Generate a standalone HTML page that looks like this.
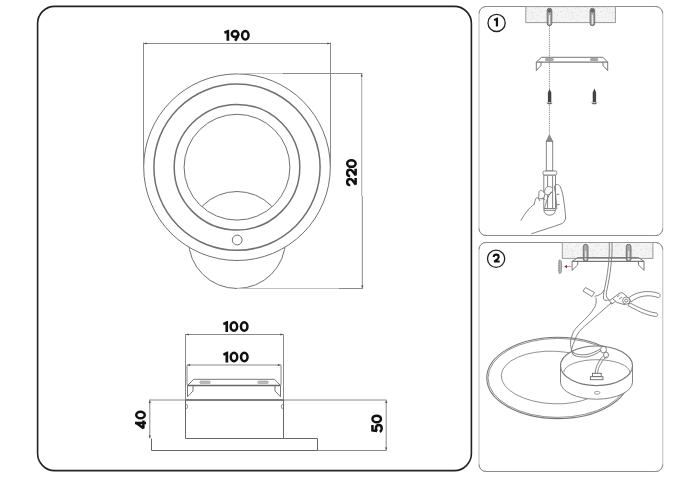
<!DOCTYPE html>
<html><head><meta charset="utf-8">
<style>
html,body{margin:0;padding:0;background:#fff;width:700px;height:478px;overflow:hidden}
svg{display:block}
text{font-family:"Liberation Sans",sans-serif;font-weight:bold;fill:#111}
</style></head><body>
<svg width="700" height="478" viewBox="0 0 700 478">
<defs>
  <clipPath id="outOuter"><path d="M0 0H700V478H0Z M143.7 167.2a93.3 93.3 0 1 0 186.6 0a93.3 93.3 0 1 0 -186.6 0Z" clip-rule="evenodd"/></clipPath>
  <clipPath id="inC4"><circle cx="237" cy="167.2" r="52.9"/></clipPath>
</defs>
<!-- left panel -->
<rect x="37.6" y="6.4" width="433.8" height="464.2" rx="17" ry="17" fill="none" stroke="#222" stroke-width="1.6"/>
<!-- right panels -->
<rect x="479" y="6.5" width="183.75" height="229.0" rx="7" fill="none" stroke="#bcbcbc" stroke-width="1"/>
<path d="M479 13.5 A7 7 0 0 1 486 6.5 H655.75 A7 7 0 0 1 662.75 13.5 M479 228.5 A7 7 0 0 0 486 235.5 H655.75 A7 7 0 0 0 662.75 228.5" fill="none" stroke="#8c8c8c" stroke-width="1"/>
<rect x="479" y="242.5" width="183.75" height="229.0" rx="7" fill="none" stroke="#bcbcbc" stroke-width="1"/>
<path d="M479 249.5 A7 7 0 0 1 486 242.5 H655.75 A7 7 0 0 1 662.75 249.5 M479 464.5 A7 7 0 0 0 486 471.5 H655.75 A7 7 0 0 0 662.75 464.5" fill="none" stroke="#8c8c8c" stroke-width="1"/>

<!-- front view -->
<g fill="none" stroke="#707070">
  <circle cx="237" cy="167.2" r="93.3" stroke-width="1"/>
  <circle cx="237" cy="167.2" r="83.1" stroke-width="1.5"/>
  <circle cx="237" cy="167.2" r="62.8" stroke-width="1.5"/>
  <circle cx="237" cy="167.2" r="52.9" stroke-width="1"/>
  <circle cx="237" cy="240" r="48.5" stroke-width="1" clip-path="url(#outOuter)"/>
  <circle cx="237" cy="240" r="48.5" stroke-width="1" clip-path="url(#inC4)"/>
  <circle cx="237.2" cy="240" r="4.9" stroke-width="1"/>
</g>
<g fill="none" stroke="#8a8a8a" stroke-width="1">
  <line x1="143.5" y1="43.5" x2="330.5" y2="43.5"/>
  <line x1="143.5" y1="42.5" x2="143.5" y2="167"/>
  <line x1="330.5" y1="42.5" x2="330.5" y2="167"/>
  <line x1="283" y1="73.5" x2="362.5" y2="73.5"/>
  <line x1="237" y1="73.5" x2="283" y2="73.5" stroke="#c4c4c4"/>
  <line x1="339" y1="288.5" x2="363" y2="288.5"/>
  <line x1="237" y1="288.5" x2="339" y2="288.5" stroke="#bdbdbd"/>
</g>
<line x1="361.7" y1="73.5" x2="361.7" y2="196" stroke="#a4a4a4" stroke-width="1"/><line x1="362.3" y1="196" x2="362.3" y2="288.5" stroke="#8a8a8a" stroke-width="1"/>
<g fill="#444">
  <path d="M144 43.5 L146.62 42.40 V44.60 Z"/>
  <path d="M330 43.5 L327.38 42.40 V44.60 Z"/>
  <path d="M361.7 74 L360.6 76.6 H362.8 Z"/>
  <path d="M362.3 288 L361.2 285.4 H363.4 Z"/>
</g>

<!-- side view -->
<g fill="none" stroke="#8a8a8a" stroke-width="1">
  <line x1="185.5" y1="334.5" x2="283.5" y2="334.5"/>
  <line x1="185.5" y1="334" x2="185.5" y2="400"/>
  <line x1="283.5" y1="334" x2="283.5" y2="400"/>
  <line x1="187" y1="365" x2="281" y2="365"/>
  <line x1="187" y1="365" x2="187" y2="385"/>
  <line x1="281" y1="365" x2="281" y2="385"/>
  <line x1="149" y1="400" x2="185.5" y2="400"/>
  <line x1="283.5" y1="400" x2="386.5" y2="400"/>
  <line x1="149.8" y1="400" x2="149.8" y2="438.5"/>
  <line x1="386.2" y1="400" x2="386.2" y2="450.5"/>
  <line x1="317.5" y1="450.5" x2="386.5" y2="450.5"/>
</g>
<g fill="#444">
  <path d="M186 334.5 L188.62 333.40 V335.60 Z"/>
  <path d="M283 334.5 L280.38 333.40 V335.60 Z"/>
  <path d="M187.5 365 L190.12 363.90 V366.10 Z"/>
  <path d="M280.5 365 L277.88 363.90 V366.10 Z"/>
  <path d="M149.8 400.5 L148.70 403.12 H150.90 Z"/>
  <path d="M149.8 438 L148.70 435.38 H150.90 Z"/>
  <path d="M386.2 400.5 L385.10 403.12 H387.30 Z"/>
  <path d="M386.2 450 L385.10 447.38 H387.30 Z"/>
</g>
<g fill="none" stroke="#666" stroke-width="1">
  <path d="M185.5 400 V438.5 H283.5 V400"/>
  <path d="M151.5 438.5 V450.5 H317.5 V438.5 H283.5"/>
  <!-- bracket -->
  <path d="M187.5 385.5 L193.7 379.3 H274.5 L280.5 385.5" stroke="#777"/>
  <path d="M187.5 385.5 V396.8 L193 391 V386" stroke="#777"/>
  <path d="M280.5 385.5 V396.8 L275 391 V386" stroke="#777"/>
  <path d="M186.3 404 C188 405 188 408 186.3 409" stroke="#888"/>
  <path d="M282.7 404 C281 405 281 408 282.7 409" stroke="#888"/>
</g>
<line x1="185.5" y1="400" x2="283.5" y2="400" stroke="#555" stroke-width="1.6"/>
<line x1="187.5" y1="385.5" x2="280.5" y2="385.5" stroke="#666" stroke-width="1.5"/>
<g fill="#bbb" stroke="#999" stroke-width="0.6">
  <rect x="199.8" y="381" width="10.5" height="2.6" rx="1.3"/>
  <rect x="257.8" y="381" width="10.5" height="2.6" rx="1.3"/>
</g>

<defs>
  <pattern id="speck" width="20" height="14" patternUnits="userSpaceOnUse">
    <rect width="20" height="14" fill="#f4f4f4"/>
    <g fill="#c4c4c4"><circle cx="4.8" cy="7.6" r="0.45"/><circle cx="7.4" cy="8.5" r="0.45"/><circle cx="12.5" cy="0.9" r="0.45"/><circle cx="0.3" cy="11.7" r="0.45"/><circle cx="5.2" cy="3.3" r="0.45"/><circle cx="19.9" cy="6.6" r="0.45"/><circle cx="16.7" cy="6.7" r="0.45"/><circle cx="12.8" cy="2.1" r="0.45"/><circle cx="12.7" cy="12.2" r="0.45"/><circle cx="10.5" cy="10.4" r="0.45"/><circle cx="15.2" cy="8.3" r="0.45"/><circle cx="6.0" cy="0.4" r="0.45"/><circle cx="14.4" cy="12.3" r="0.45"/><circle cx="7.9" cy="11.2" r="0.45"/><circle cx="8.9" cy="13.1" r="0.45"/><circle cx="17.6" cy="1.4" r="0.45"/><circle cx="2.7" cy="3.0" r="0.45"/><circle cx="12.5" cy="4.2" r="0.45"/><circle cx="10.1" cy="5.4" r="0.45"/><circle cx="11.7" cy="12.7" r="0.45"/><circle cx="17.1" cy="13.9" r="0.45"/><circle cx="18.1" cy="8.0" r="0.45"/><circle cx="1.8" cy="11.2" r="0.45"/><circle cx="8.2" cy="2.1" r="0.45"/><circle cx="5.9" cy="10.8" r="0.45"/><circle cx="14.4" cy="4.6" r="0.45"/></g>
  </pattern>
</defs>
<!-- ===== panel 1 ===== -->
<circle cx="496.6" cy="22.9" r="8.6" fill="none" stroke="#222" stroke-width="1.3"/>
<g transform="translate(493.8 17.6) scale(0.818)"><path d="M0 1.9 L4.0 0 H5.2 V11 H2.5 V3.4 L0.9 4.3 Z" fill="#111"/></g>
<rect x="525.8" y="6.6" width="89.6" height="16" fill="url(#speck)" stroke="#999" stroke-width="1"/>
<g stroke="#666" stroke-width="0.9">
  <rect x="547.2" y="8.3" width="4.6" height="17.4" rx="2.2" fill="#a8a8a8"/>
  <rect x="590.1" y="8.3" width="4.6" height="17.4" rx="2.2" fill="#a8a8a8"/>
</g>
<g fill="#e8e8e8"><rect x="548.9" y="15" width="1.2" height="9"/><rect x="591.8" y="15" width="1.2" height="9"/></g>
<g fill="#666"><rect x="547.7" y="9" width="3.6" height="3.5" rx="1.5"/><rect x="590.6" y="9" width="3.6" height="3.5" rx="1.5"/></g>
<line x1="549.4" y1="26" x2="549.4" y2="135" stroke="#666" stroke-width="0.8" stroke-dasharray="1.2 1"/>
<g fill="none" stroke="#777" stroke-width="1">
  <path d="M536.3 62.1 L541.5 57.3 H602.9 L607.7 62.1"/>
  <path d="M536.3 62.1 V70.6 L541 65.5 V62.1"/>
  <path d="M607.7 62.1 V70.6 L603 65.5 V62.1"/>
</g>
<line x1="536.3" y1="62.1" x2="607.7" y2="62.1" stroke="#777" stroke-width="1.4"/>
<g fill="#a8a8a8"><rect x="545" y="58.1" width="8.8" height="3" rx="1.5"/><rect x="589.9" y="58.1" width="8.4" height="3" rx="1.5"/></g>
<!-- screws -->
<g fill="#444">
  <path d="M547.9 102 V92.5 L549.6 89 L551.3 92.5 V102 Z"/>
  <path d="M592.7 102 V92.5 L594.4 88.5 L596.1 92.5 V102 Z"/>
  <path d="M546.3 102.5 H552.7 L551 104.2 H548 Z" fill="#666"/>
  <path d="M591.1 102.5 H597.5 L595.8 104.2 H592.8 Z" fill="#666"/>
</g>
<!-- screwdriver -->
<g fill="#fff" stroke="#777" stroke-width="0.9">
  <path d="M549.4 135 L546.2 141.3 H552.6 Z" fill="#8a8a8a" stroke="#888"/>
  <rect x="546.3" y="141.3" width="6.4" height="29.7"/>
  <path d="M543.8 175 V208.5 Q543.8 215.2 549.7 215.2 Q555.5 215.2 555.5 208.5 V175 Z"/>
  <line x1="547.6" y1="176" x2="547.6" y2="208.5"/>
  <line x1="552.6" y1="176" x2="552.6" y2="208.5"/>
  <line x1="544" y1="208.5" x2="555.3" y2="208.5"/>
  <line x1="544" y1="210.3" x2="555.3" y2="210.3"/>
  <rect x="543" y="171" width="13.8" height="4" rx="1.5"/>
</g>
<!-- hand -->
<g fill="#fff" stroke="#777" stroke-width="0.9" stroke-linejoin="round" stroke-linecap="round">
  <path d="M554.3 186.4 C556 195 556.5 203 556.8 209" fill="none"/>
  <path d="M534.1 204.4 L535.6 198.9 C536.1 197.8 537.6 197.4 538.6 198.2 L539.6 200.6" fill="none"/>
  <path d="M538.6 198.2 L539 191.8 C539.4 190.4 541.2 189.8 542.4 190.8 L545.2 193.8 L543.5 198.5 Z"/>
  <path d="M545 193.5 C543.8 190.5 545.5 187 548.5 186.6 C551.5 186.2 553.5 188.5 552.3 191.3 C551.2 193.8 548.5 195.3 546.3 194.8 Z"/>
  <path d="M550.9 192.2 C548.5 196 546 201 545.5 205.6 C545 207 544.5 208 544.3 208.5" fill="none"/>
  <path d="M555.1 185.1 C556.5 184 558.8 184 560.1 186.4 C562 190.5 563 195 563.5 198.9 C564.6 206 565.3 212 565.6 218" fill="none"/>
  <path d="M556.8 194.3 H558.9 M557 204.6 H559.3" fill="none"/>
  <path d="M542.5 198 L544.5 199.5" fill="none"/>
  <path d="M521.1 220.3 C525 213 529 208 534.1 204.4" fill="none"/>
  <path d="M565.6 218 C565.3 220.5 564 222.5 562.2 223.5 C553 227 541 230.5 531.6 233.7" fill="none"/>
</g>

<!-- ===== panel 2 ===== -->
<circle cx="496.1" cy="258.8" r="8.6" fill="none" stroke="#222" stroke-width="1.3"/>
<g transform="translate(492.6 253.6) scale(0.818)"><path d="M1.3 4.3 C1.3 2.3 2.7 1.25 4.4 1.25 C6.2 1.25 7.45 2.4 7.45 4.0 C7.45 5.2 6.8 6.0 5.8 6.9 L2.0 9.75 H8.6" fill="none" stroke="#111" stroke-width="2.5" stroke-linejoin="miter" stroke-miterlimit="3"/></g>
<rect x="562.3" y="242.5" width="90.6" height="15.9" fill="url(#speck)" stroke="#999" stroke-width="1"/>
<g stroke="#666" stroke-width="0.9">
  <rect x="583.3" y="244.3" width="4.7" height="17" rx="2.3" fill="#a8a8a8"/>
  <rect x="626.3" y="244.3" width="4.7" height="17" rx="2.3" fill="#a8a8a8"/>
</g>
<g fill="#e8e8e8"><rect x="585.05" y="251" width="1.2" height="9"/><rect x="628.05" y="251" width="1.2" height="9"/></g>
<g fill="none" stroke="#777" stroke-width="1">
  <path d="M572.1 261.4 L577.7 257.6 H638.5 L644 261.4"/>
  <path d="M572.1 261.4 V270.4 L577.7 264.9 V261.4"/>
  <path d="M644 261.4 V270.4 L638.5 264.9 V261.4"/>
</g>
<line x1="572.1" y1="261.4" x2="644" y2="261.4" stroke="#777" stroke-width="1.3"/>
<path d="M559.2 260 C560.8 260 561.4 261 561.4 262 V271.5 C561.4 272.6 560.8 273.4 559.2 273.4 C558.6 272 558.6 261.5 559.2 260 Z" fill="#bbb" stroke="#777" stroke-width="0.7"/><path d="M558.4 263 H559.6 M558.4 265.5 H559.6 M558.4 268 H559.6 M558.4 270.5 H559.6" stroke="#777" stroke-width="0.6"/>
<line x1="571.3" y1="266.6" x2="566" y2="266.6" stroke="#e77" stroke-width="0.9"/>
<path d="M564.2 266.6 L567 265 V268.2 Z" fill="#733"/>
<!-- cable -->
<g fill="none" stroke="#777" stroke-width="0.9">
  <path d="M609.2 242.5 C610 258 607.5 275 604.4 289.6 C603 293 599 296 594.5 296.3"/>
  <path d="M612 242.5 C612.5 258 610 276 607 289.6 C606 294 605.5 298 609.5 299.9"/>
  <path d="M604.4 289.6 C603.3 294 603.3 298 603.7 299.3 C604.5 300.5 607 300.5 609.5 300"/>
</g>
<g fill="#fff" stroke="#777" stroke-width="0.9">
  <path d="M583 291 L585.5 287.5 L594.5 292.5 L592 296.6 Z"/>
  <path d="M609.4 300.6 L615.8 296.2 L618 299.6 L611.8 304 Z"/>
</g>
<!-- pliers -->
<g fill="#fff" stroke="#777" stroke-width="0.9">
  <path d="M629 297.5 C636 292 648 289.5 659 293.5 C661 295 660 298 658 297.5 C648 294 638 296 631 302 Z"/>
  <path d="M630 303 C638 307 647 312 656.5 313 C658.5 314 657.5 317 655.5 316.5 C645 315 636 310 628 305.5 Z"/>
  <path d="M612.5 298.5 L619 293.5 L622 292.5 L627 296.5 L629.5 303 L624 304.5 L617 302.5 Z"/><path d="M617 297 L619.5 295 M619 299 L622 297" fill="none"/>
  <circle cx="626.2" cy="300.6" r="3.6"/>
  <circle cx="626.2" cy="300.6" r="1.5"/>
</g>
<!-- bowl / ring -->
<g fill="none" stroke="#777">
  <ellipse cx="557.8" cy="377.9" rx="71" ry="40.7" stroke-width="1.1"/>
  <ellipse cx="557.8" cy="377.9" rx="69.8" ry="39.5" stroke-width="0.8"/>
  <ellipse cx="554" cy="377.5" rx="52.8" ry="26.3" stroke-width="0.8" transform="rotate(2.4 554 377.5)"/>
</g>
<g stroke="#777" stroke-width="0.9">
  <path d="M560.5 365.8 V382 A36 17.2 0 0 0 632.5 382 V365.8 Z" fill="#fff"/>
  <ellipse cx="596.5" cy="365.8" rx="36" ry="19.8" fill="#fff" stroke-width="1.1"/>
  <path d="M563.8 372.4 A33 12.7 0 0 1 629.8 372.4" fill="none" stroke-width="0.8"/>
  <ellipse cx="597.2" cy="392.8" rx="2.8" ry="1.4" fill="none" stroke-width="0.7"/>
</g>
<!-- wires over -->
<g fill="none" stroke="#777" stroke-width="0.9">
  <path d="M596 297.7 C596.5 302 596 305 594.7 307.2 C591 314 585 319 581.8 322.2 C577 327 574 330 572.9 333.1 C570.5 339 570 344 570.9 346.7 C571.5 351 572 353.5 573.6 354.9 C577 357 582 357.2 587.2 356.9 C592 356 596 354 601 350.5"/>
  <path d="M611.7 302.5 L584.5 326.3 C579 331 576 336 575 339.9 C573.5 343 572.5 346 571.6 349.4 C572 352 573 354.5 575 356.2"/>
  <path d="M573 352 C576 355 582 355 587 354.5 C592 353.5 596 351.5 600 349"/>
  <path d="M595.1 373.3 C595.5 368 597 365 598.5 362.5 C600 359 602 357 604 355"/>
  <path d="M597.6 373.3 C598 368 599.5 366 601 363.5 C602.5 360.5 604.5 358.5 606.5 356.5"/>
  <ellipse cx="603.5" cy="349.6" rx="3" ry="3.3"/>
  <ellipse cx="606" cy="355" rx="2.5" ry="3"/>
</g>
<g fill="#fff" stroke="#666" stroke-width="0.9">
  <rect x="592.4" y="373.3" width="8.8" height="3.4"/>
  <rect x="590.4" y="376.7" width="12.5" height="3"/>
</g>
<!-- NUMS -->
<g transform="translate(224.00 29.70) scale(1.000)"><g transform="translate(0.00 0)"><path d="M0 1.9 L4.0 0 H5.2 V11 H2.5 V3.4 L0.9 4.3 Z" fill="#111"/></g><g transform="translate(6.50 0)"><ellipse cx="4.55" cy="4.3" rx="3.3" ry="3.05" fill="none" stroke="#111" stroke-width="2.5"/><path d="M7.85 4.3 C7.85 6.2 6.9 8.0 5.6 9.6 L4.6 11" fill="none" stroke="#111" stroke-width="2.5"/></g><g transform="translate(16.80 0)"><ellipse cx="4.5" cy="5.5" rx="3.25" ry="4.25" fill="none" stroke="#111" stroke-width="2.5"/></g></g>
<g transform="translate(222.90 321.00) scale(1.000)"><g transform="translate(0.00 0)"><path d="M0 1.9 L4.0 0 H5.2 V11 H2.5 V3.4 L0.9 4.3 Z" fill="#111"/></g><g transform="translate(6.50 0)"><ellipse cx="4.5" cy="5.5" rx="3.25" ry="4.25" fill="none" stroke="#111" stroke-width="2.5"/></g><g transform="translate(16.80 0)"><ellipse cx="4.5" cy="5.5" rx="3.25" ry="4.25" fill="none" stroke="#111" stroke-width="2.5"/></g></g>
<g transform="translate(223.00 351.60) scale(1.000)"><g transform="translate(0.00 0)"><path d="M0 1.9 L4.0 0 H5.2 V11 H2.5 V3.4 L0.9 4.3 Z" fill="#111"/></g><g transform="translate(6.50 0)"><ellipse cx="4.5" cy="5.5" rx="3.25" ry="4.25" fill="none" stroke="#111" stroke-width="2.5"/></g><g transform="translate(16.80 0)"><ellipse cx="4.5" cy="5.5" rx="3.25" ry="4.25" fill="none" stroke="#111" stroke-width="2.5"/></g></g>
<g transform="translate(345.90 186.50) rotate(-90) scale(1.000)"><g transform="translate(0.00 0)"><path d="M1.3 4.3 C1.3 2.3 2.7 1.25 4.4 1.25 C6.2 1.25 7.45 2.4 7.45 4.0 C7.45 5.2 6.8 6.0 5.8 6.9 L2.0 9.75 H8.6" fill="none" stroke="#111" stroke-width="2.5" stroke-linejoin="miter" stroke-miterlimit="3"/></g><g transform="translate(9.20 0)"><path d="M1.3 4.3 C1.3 2.3 2.7 1.25 4.4 1.25 C6.2 1.25 7.45 2.4 7.45 4.0 C7.45 5.2 6.8 6.0 5.8 6.9 L2.0 9.75 H8.6" fill="none" stroke="#111" stroke-width="2.5" stroke-linejoin="miter" stroke-miterlimit="3"/></g><g transform="translate(18.40 0)"><ellipse cx="4.5" cy="5.5" rx="3.25" ry="4.25" fill="none" stroke="#111" stroke-width="2.5"/></g></g>
<g transform="translate(135.00 429.50) rotate(-90) scale(1.000)"><g transform="translate(0.00 0)"><path d="M6.5 11 V1.4 L1.25 8.4 H9.0" fill="none" stroke="#111" stroke-width="2.5" stroke-linejoin="miter" stroke-miterlimit="2"/><path d="M5.25 0 H7.75 V2 L5.25 2 Z" fill="#111"/></g><g transform="translate(10.00 0)"><ellipse cx="4.5" cy="5.5" rx="3.25" ry="4.25" fill="none" stroke="#111" stroke-width="2.5"/></g></g>
<g transform="translate(371.20 433.00) rotate(-90) scale(1.000)"><g transform="translate(0.00 0)"><path d="M8.0 1.25 H2.6 L2.0 5.9" fill="none" stroke="#111" stroke-width="2.5" stroke-linejoin="miter"/><path d="M2.0 5.9 C2.8 5.0 3.7 4.7 4.6 4.7 C6.6 4.7 7.9 6.0 7.9 7.7 C7.9 9.5 6.5 10.5 4.6 10.5 C3.1 10.5 1.8 9.7 1.2 8.6" fill="none" stroke="#111" stroke-width="2.5" stroke-linejoin="round"/></g><g transform="translate(9.60 0)"><ellipse cx="4.5" cy="5.5" rx="3.25" ry="4.25" fill="none" stroke="#111" stroke-width="2.5"/></g></g>
<!-- /NUMS -->
</svg>
</body></html>
